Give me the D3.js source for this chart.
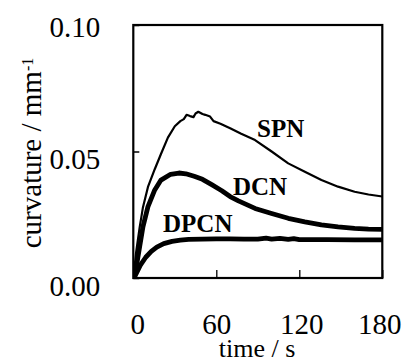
<!DOCTYPE html>
<html>
<head>
<meta charset="utf-8">
<script src="https://cdn.jsdelivr.net/npm/d3@7"></script>
<style>
  html, body { margin: 0; padding: 0; background: #fff; }
  svg { display: block; }
  text { font-family: "Liberation Serif", "Times New Roman", serif; fill: #000; }
</style>
</head>
<body>
<svg id="chart" width="406" height="364"></svg>
<script>
// ---- data ----
const xTicks = [0, 60, 120, 180];
const yTicks = [0.00, 0.05, 0.10];
const yTickLabels = ["0.00", "0.05", "0.10"];

const spnTime  = [0, 0.5, 2, 4.6, 7, 10.6, 15.5, 20, 25, 30, 34, 36.5, 38.5, 41, 43.5, 45, 47, 50, 52, 55.5, 58, 63, 70, 78, 88, 100, 112, 124, 136, 148, 160, 170, 180];
const spnValue = [0, 0.002, 0.010, 0.020, 0.028, 0.036, 0.043, 0.049, 0.0555, 0.0600, 0.0620, 0.0628, 0.0645, 0.0640, 0.0636, 0.0650, 0.0657, 0.0648, 0.0645, 0.0638, 0.0620, 0.0610, 0.0592, 0.0570, 0.0545, 0.0500, 0.0453, 0.0420, 0.0387, 0.0361, 0.0341, 0.0330, 0.0322];

const dcnTime  = [0, 2.2, 4.6, 7, 10.6, 15.5, 20, 27, 33, 38, 44, 50, 57, 64, 70, 76, 88, 100, 112, 124, 136, 148, 160, 170, 180];
const dcnValue = [0, 0.0045, 0.0124, 0.0203, 0.0282, 0.0348, 0.0387, 0.0410, 0.0415, 0.0412, 0.0402, 0.0390, 0.0368, 0.0345, 0.0322, 0.0305, 0.0275, 0.0255, 0.0236, 0.0222, 0.0210, 0.0202, 0.0196, 0.0193, 0.0192];

const dpcnTime  = [0, 1, 5, 9, 13, 17, 22, 28, 34, 40, 50, 60, 70, 80, 90, 96, 100, 106, 112, 116, 120, 140, 160, 180];
const dpcnValue = [0, 0.0005, 0.0050, 0.0082, 0.0105, 0.0122, 0.0136, 0.0145, 0.0150, 0.0153, 0.0154, 0.0155, 0.0155, 0.0154, 0.0154, 0.0158, 0.0154, 0.0157, 0.0153, 0.0156, 0.0152, 0.0152, 0.0151, 0.0151];

const seriesNames = ["SPN", "DCN", "DPCN"];
// ---------------------------------------

const svg = d3.select("#chart");
const x0 = 133.3, x1 = 382.3, y0 = 278, y1 = 25;
const x = d3.scaleLinear().domain([0, 180]).range([x0, x1]);
const y = d3.scaleLinear().domain([0, 0.10]).range([y0, y1]);

// curves
const line = d3.line().x(d => x(d[0])).y(d => y(d[1])).curve(d3.curveLinear);
const series = [
  { name: seriesNames[0], t: spnTime, v: spnValue, w: 2.2 },
  { name: seriesNames[1], t: dcnTime, v: dcnValue, w: 4.8 },
  { name: seriesNames[2], t: dpcnTime, v: dpcnValue, w: 4.8 }
];
svg.append("clipPath").attr("id", "clip")
  .append("rect").attr("x", x0).attr("y", y1).attr("width", x1 - x0).attr("height", y0 - y1);
series.forEach(s => {
  svg.append("path")
    .datum(s.t.map((t, i) => [t, s.v[i]]))
    .attr("d", line)
    .attr("fill", "none")
    .attr("stroke", "#000")
    .attr("stroke-width", s.w)
    .attr("stroke-linejoin", "round")
    .attr("clip-path", "url(#clip)");
});

// frame
svg.append("rect")
  .attr("x", x0).attr("y", y1).attr("width", x1 - x0).attr("height", y0 - y1)
  .attr("fill", "none").attr("stroke", "#000").attr("stroke-width", 2.2);

// y axis
const yAxis = svg.append("g").attr("transform", `translate(${x0},0)`)
  .call(d3.axisLeft(y).tickValues(yTicks).tickFormat((d, i) => yTickLabels[i]).tickSize(-6).tickPadding(33));
yAxis.select(".domain").remove();
yAxis.selectAll(".tick line").attr("stroke-width", 1.5);
yAxis.selectAll(".tick text")
  .style("font-size", "29px")
  .attr("dy", (d, i) => [17, 16.5, 11.5][i] + "px")
  .attr("dominant-baseline", "auto");

// x axis
const xAxis = svg.append("g").attr("transform", `translate(0,${y0})`)
  .call(d3.axisBottom(x).tickValues(xTicks).tickFormat(d3.format("d")).tickSize(-8).tickPadding(0));
xAxis.select(".domain").remove();
xAxis.selectAll(".tick line").attr("stroke-width", 1.3);
xAxis.selectAll(".tick text")
  .style("font-size", "29px")
  .attr("y", 56).attr("dy", null)
  .attr("dx", (d, i) => [4, 0, 2, -3][i]);

// axis titles
svg.append("text")
  .attr("x", 257).attr("y", 357)
  .attr("text-anchor", "middle")
  .style("font-size", "26px")
  .text("time / s");

const yt = svg.append("text")
  .attr("transform", "translate(41,153) rotate(-90)")
  .attr("text-anchor", "middle")
  .style("font-size", "29px");
yt.append("tspan").text("curvature / mm");
yt.append("tspan").attr("baseline-shift", "super").style("font-size", "16px").text("-1");

// series labels
const labelPos = [[257, 137], [233, 195], [163, 232]];
seriesNames.forEach((n, i) => {
  svg.append("text")
    .attr("x", labelPos[i][0]).attr("y", labelPos[i][1])
    .style("font-size", "25px").style("font-weight", "bold")
    .text(n);
});
</script>
</body>
</html>
